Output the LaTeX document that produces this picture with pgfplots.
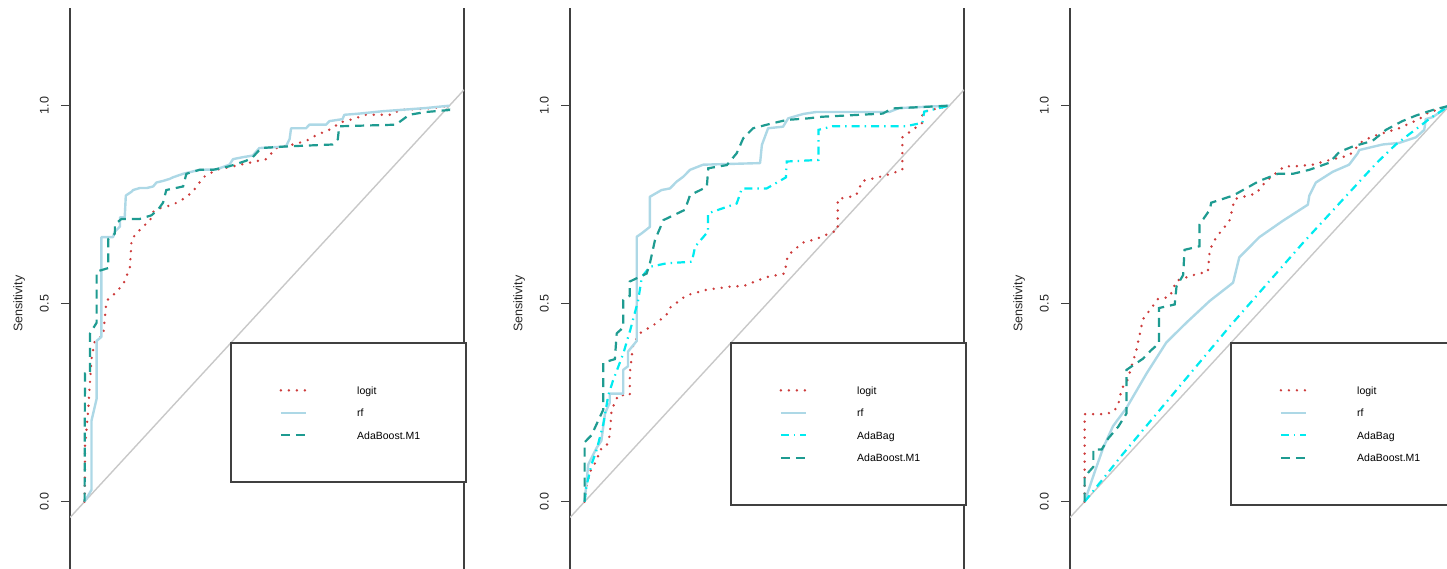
\documentclass[border=0pt]{standalone}
\usepackage{fontspec}
\setmainfont{Liberation Sans}
\usepackage{pgfplots}
\pgfplotsset{compat=1.18}
\definecolor{cLogit}{RGB}{205,60,60}
\definecolor{cRf}{RGB}{173,216,230}
\definecolor{cBag}{RGB}{0,235,240}
\definecolor{cBoost}{RGB}{30,155,145}
\definecolor{cDiag}{RGB}{200,200,200}
\pgfplotsset{
  rocaxis/.style={
    scale only axis, width=394pt, height=561pt,
    xmin=-0.04, xmax=1.04, ymin=-0.1700, ymax=1.2467,
    separate axis lines,
    x axis line style={draw=none},
    y axis line style={draw=black!75, line width=1.4pt},
    xtick=\empty, ytick={0,0.5,1}, ytick pos=left,
    tick align=outside, major tick length=9pt,
    y tick style={draw=black!75, line width=1.4pt},
    /pgf/number format/assume math mode=true,
    yticklabel style={rotate=90, anchor=south, inner sep=0pt, font=\fontsize{12.5}{14}\selectfont, text=black!85,
      /pgf/number format/fixed, /pgf/number format/fixed zerofill, /pgf/number format/precision=1},
    yticklabel shift=12pt,
    ylabel={Sensitivity},
    every axis y label/.style={at={(axis description cs:-0.1294,0.4728)}, rotate=90, anchor=center, font=\fontsize{12.5}{14}\selectfont, text=black!85},
    legend cell align=left,
    legend image code/.code={\draw[##1] (0pt,0pt) -- (25pt,0pt);},
    legend style={at={(axis cs:0.4,0.4)}, anchor=north west, draw=black!75, /tikz/line width=2pt, fill=white,
      outer sep=0pt, inner xsep=49pt, inner ysep=43pt, row sep=14.5pt,
      nodes={inner sep=0pt, text height=8pt, text depth=0pt},
      font=\fontsize{10.5}{12}\selectfont,
      /tikz/every odd column/.append style={column sep=50pt},
      /tikz/every even column/.append style={text width=60pt}},
  },
  sLogit/.style={cLogit, line width=2.7pt, line cap=round, dash pattern=on 0pt off 8pt},
  sRf/.style={cRf, line width=2.4pt, line join=round},
  sBag/.style={cBag, line width=2.2pt, dash pattern=on 8pt off 5pt on 1.5pt off 5pt},
  sBoost/.style={cBoost, line width=2.2pt, dash pattern=on 9pt off 6pt},
  sDiag/.style={cDiag, line width=1.4pt},
}
\begin{document}
\begin{tikzpicture}
\useasboundingbox (0,0) rectangle (1447pt,569pt);
\clip (0,0) rectangle (1447pt,569pt);
% ---------------- Panel 1
\begin{axis}[rocaxis, at={(70pt,0pt)}, anchor=south west]
\addplot[sDiag, forget plot] coordinates {(-0.04,-0.04) (1.04,1.04)};
\addplot[sLogit] coordinates {(0,0) (0.001,0.076) (0.001,0.140) (0.010,0.232) (0.015,0.306) (0.019,0.361) (0.028,0.406) (0.051,0.420) (0.060,0.507) (0.083,0.526) (0.106,0.549) (0.124,0.590) (0.129,0.663) (0.142,0.677) (0.160,0.695) (0.179,0.709) (0.188,0.732) (0.206,0.741) (0.242,0.750) (0.270,0.764) (0.297,0.783) (0.325,0.819) (0.361,0.838) (0.407,0.847) (0.452,0.856) (0.498,0.865) (0.525,0.893) (0.571,0.902) (0.607,0.911) (0.634,0.925) (0.680,0.943) (0.698,0.957) (0.735,0.966) (0.771,0.977) (0.844,0.977) (0.862,0.989) (0.954,0.994) (1,1)};
\addlegendentry{logit}
\addplot[sRf] coordinates {(0,0) (0.019,0.03) (0.019,0.205) (0.033,0.260) (0.033,0.406) (0.046,0.416) (0.046,0.668) (0.078,0.668) (0.083,0.682) (0.097,0.695) (0.097,0.718) (0.110,0.718) (0.113,0.773) (0.129,0.783) (0.133,0.787) (0.151,0.792) (0.170,0.792) (0.188,0.796) (0.197,0.806) (0.215,0.810) (0.233,0.815) (0.242,0.819) (0.270,0.828) (0.315,0.838) (0.361,0.839) (0.397,0.851) (0.407,0.865) (0.434,0.870) (0.461,0.874) (0.479,0.893) (0.552,0.897) (0.562,0.916) (0.566,0.943) (0.607,0.943) (0.616,0.952) (0.662,0.952) (0.671,0.961) (0.707,0.966) (0.712,0.977) (0.753,0.980) (0.817,0.986) (0.935,0.994) (1,1)};
\addlegendentry{rf}
\addplot[sBoost] coordinates {(0,0) (0.001,0.324) (0.015,0.324) (0.015,0.425) (0.033,0.452) (0.033,0.581) (0.065,0.590) (0.065,0.663) (0.083,0.677) (0.083,0.700) (0.101,0.714) (0.151,0.714) (0.183,0.723) (0.201,0.737) (0.215,0.755) (0.224,0.787) (0.270,0.796) (0.279,0.828) (0.315,0.838) (0.352,0.838) (0.397,0.847) (0.443,0.861) (0.461,0.870) (0.484,0.893) (0.552,0.897) (0.680,0.902) (0.694,0.915) (0.698,0.948) (0.853,0.952) (0.890,0.977) (0.935,0.984) (0.999,0.989) (1,1)};
\addlegendentry{AdaBoost.M1}
\end{axis}
% ---------------- Panel 2
\begin{axis}[rocaxis, at={(570pt,0pt)}, anchor=south west]
\addplot[sDiag, forget plot] coordinates {(-0.04,-0.04) (1.04,1.04)};
\addplot[sLogit] coordinates {(0,0) (0.005,0.039) (0.015,0.076) (0.033,0.104) (0.042,0.131) (0.060,0.140) (0.069,0.168) (0.074,0.232) (0.088,0.260) (0.092,0.269) (0.124,0.269) (0.124,0.324) (0.133,0.397) (0.151,0.425) (0.192,0.448) (0.224,0.471) (0.233,0.489) (0.279,0.521) (0.334,0.535) (0.407,0.544) (0.434,0.544) (0.498,0.567) (0.548,0.576) (0.557,0.622) (0.598,0.654) (0.634,0.663) (0.694,0.686) (0.694,0.764) (0.744,0.773) (0.762,0.810) (0.826,0.824) (0.871,0.838) (0.871,0.920) (0.926,0.957) (0.926,0.984) (1,1)};
\addlegendentry{logit}
\addplot[sRf] coordinates {(0,0) (0.010,0.094) (0.033,0.136) (0.046,0.154) (0.056,0.223) (0.069,0.250) (0.069,0.273) (0.106,0.273) (0.106,0.333) (0.119,0.342) (0.119,0.379) (0.143,0.406) (0.143,0.669) (0.157,0.678) (0.179,0.694) (0.179,0.770) (0.211,0.787) (0.234,0.791) (0.252,0.808) (0.271,0.821) (0.289,0.838) (0.325,0.851) (0.481,0.855) (0.486,0.901) (0.503,0.943) (0.544,0.947) (0.558,0.968) (0.599,0.979) (0.634,0.984) (0.835,0.984) (0.862,0.994) (1,1)};
\addlegendentry{rf}
\addplot[sBag] coordinates {(0,0) (0.005,0.039) (0.019,0.094) (0.033,0.131) (0.051,0.195) (0.065,0.269) (0.078,0.306) (0.106,0.374) (0.125,0.433) (0.147,0.509) (0.157,0.568) (0.179,0.593) (0.225,0.602) (0.294,0.606) (0.303,0.644) (0.338,0.682) (0.338,0.728) (0.417,0.753) (0.431,0.791) (0.499,0.791) (0.552,0.819) (0.554,0.859) (0.641,0.863) (0.641,0.939) (0.680,0.948) (0.881,0.948) (0.926,0.957) (0.931,0.985) (1,1)};
\addlegendentry{AdaBag}
\addplot[sBoost] coordinates {(0,0) (0.000,0.150) (0.019,0.168) (0.051,0.232) (0.051,0.351) (0.083,0.360) (0.088,0.425) (0.106,0.440) (0.106,0.509) (0.124,0.520) (0.124,0.556) (0.170,0.576) (0.179,0.602) (0.193,0.661) (0.216,0.711) (0.275,0.737) (0.289,0.774) (0.335,0.795) (0.339,0.842) (0.390,0.850) (0.417,0.880) (0.435,0.918) (0.462,0.943) (0.508,0.954) (0.554,0.964) (0.613,0.968) (0.650,0.972) (0.817,0.980) (0.844,0.993) (1,1)};
\addlegendentry{AdaBoost.M1}
\end{axis}
% ---------------- Panel 3
\begin{axis}[rocaxis, at={(1070pt,0pt)}, anchor=south west]
\addplot[sDiag, forget plot] coordinates {(-0.04,-0.04) (1.04,1.04)};
\addplot[sLogit] coordinates {(0,0) (0,0.221) (0.056,0.221) (0.079,0.227) (0.092,0.244) (0.102,0.286) (0.116,0.303) (0.142,0.383) (0.160,0.461) (0.179,0.484) (0.201,0.512) (0.233,0.517) (0.252,0.558) (0.297,0.572) (0.338,0.581) (0.343,0.636) (0.361,0.668) (0.397,0.709) (0.411,0.764) (0.470,0.778) (0.498,0.810) (0.548,0.847) (0.579,0.847) (0.625,0.851) (0.680,0.865) (0.725,0.874) (0.762,0.911) (0.798,0.925) (0.862,0.943) (0.917,0.966) (0.944,0.984) (0.990,0.994) (1,1)};
\addlegendentry{logit}
\addplot[sRf] coordinates {(0,0) (0.028,0.076) (0.051,0.136) (0.078,0.191) (0.115,0.237) (0.170,0.324) (0.224,0.402) (0.279,0.452) (0.343,0.507) (0.407,0.553) (0.424,0.617) (0.479,0.668) (0.543,0.709) (0.612,0.750) (0.616,0.773) (0.634,0.806) (0.680,0.833) (0.725,0.851) (0.748,0.879) (0.753,0.888) (0.817,0.902) (0.862,0.906) (0.908,0.920) (0.931,0.939) (0.935,0.966) (0.954,0.971) (1,1)};
\addlegendentry{rf}
\addplot[sBag] coordinates {(0,0) (0.05,0.057) (0.1,0.115) (0.2,0.225) (0.3,0.335) (0.4,0.445) (0.5,0.55) (0.6,0.655) (0.7,0.755) (0.8,0.855) (0.853,0.902) (0.9,0.935) (0.95,0.97) (1,1)};
\addlegendentry{AdaBag}
\addplot[sBoost] coordinates {(0,0) (0,0.063) (0.024,0.088) (0.024,0.132) (0.047,0.132) (0.065,0.160) (0.092,0.189) (0.115,0.223) (0.115,0.333) (0.160,0.361) (0.183,0.383) (0.204,0.400) (0.204,0.489) (0.247,0.498) (0.252,0.544) (0.270,0.572) (0.274,0.636) (0.315,0.645) (0.315,0.700) (0.343,0.737) (0.347,0.755) (0.407,0.773) (0.479,0.810) (0.530,0.828) (0.571,0.828) (0.616,0.838) (0.671,0.856) (0.698,0.883) (0.735,0.897) (0.789,0.911) (0.826,0.939) (0.871,0.961) (0.908,0.975) (0.954,0.989) (1,1)};
\addlegendentry{AdaBoost.M1}
\end{axis}
\end{tikzpicture}
\end{document}
